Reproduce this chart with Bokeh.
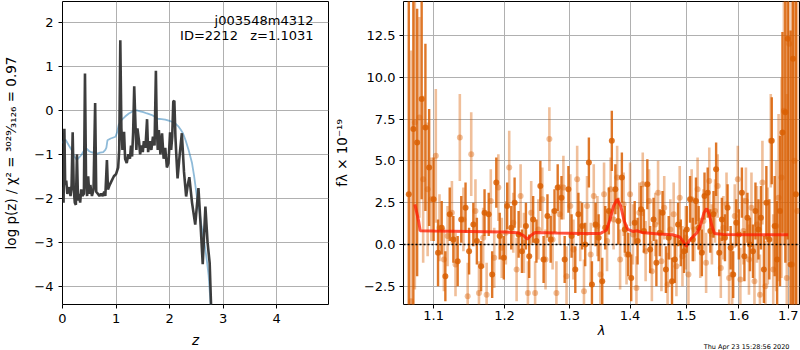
import numpy as np
from bokeh.plotting import figure
from bokeh.models import Range1d, FixedTicker, Label, Span, ColumnDataSource, Title
from bokeh.layouts import row
from bokeh.embed import file_html
from bokeh.resources import INLINE

FONT = "DejaVu Sans"

# ---------------- left panel: log p(z) ----------------
z_pz = [0.00, 0.02, 0.035, 0.05, 0.07, 0.09, 0.11, 0.13, 0.15, 0.17,
        0.19, 0.21, 0.23, 0.25, 0.27, 0.29, 0.31, 0.33, 0.35, 0.37,
        0.40, 0.42, 0.44, 0.46, 0.48, 0.50, 0.52, 0.55, 0.58, 0.61,
        0.63, 0.66, 0.69, 0.72, 0.75, 0.78, 0.80, 0.83, 0.85, 0.88,
        0.92, 0.96, 1.00, 1.04, 1.06, 1.08, 1.10, 1.12, 1.15, 1.17,
        1.20, 1.23, 1.26, 1.28, 1.30, 1.32, 1.34, 1.36, 1.38, 1.40,
        1.43, 1.45, 1.48, 1.50, 1.52, 1.55, 1.58, 1.60, 1.63, 1.66,
        1.69, 1.72, 1.745, 1.76, 1.78, 1.80, 1.83, 1.86, 1.89, 1.92,
        1.95, 1.98, 2.01, 2.03, 2.05, 2.07, 2.09, 2.11, 2.13, 2.15,
        2.19, 2.23, 2.27, 2.31, 2.34, 2.37, 2.42, 2.48, 2.54, 2.58,
        2.62, 2.67, 2.71, 2.75, 2.78, 2.80]
logpz = [-1.75, -2.10, -0.42, -1.70, -1.60, -1.90, -1.80, -1.75, -1.95, -1.70,
         -0.50, -1.80, -2.10, -2.15, -1.00, -2.05, -1.90, -2.10, -1.80, -1.95,
         -1.90, 0.84, -1.60, -1.95, -1.50, -1.90, -1.70, -1.95, -1.80, 0.17,
         -1.85, -1.90, -1.95, -1.90, -1.95, -1.85, -1.95, -1.13, -1.80, -1.70,
         -1.60, -1.50, -1.45, -1.30, -0.90, 1.60, -0.40, -0.90, -0.49, -1.10,
         -1.20, -1.00, -1.10, -0.80, -1.05, -0.50, 0.55, -0.20, -0.90, -0.41,
         -0.70, -1.00, -0.80, -0.95, -0.70, -0.85, -0.20, -0.95, -0.70, -0.90,
         -0.60, -0.80, 0.90, -0.30, -0.90, -0.45, -1.00, -0.52, -1.10, -0.85,
         -1.30, -1.20, -0.50, -0.90, -0.60, 0.20, 0.22, -0.60, -1.10, -1.55,
         -1.00, -0.52, -1.40, -1.96, -1.70, -1.52, -2.10, -2.60, -1.77, -2.60,
         -3.50, -2.19, -3.00, -3.48, -4.60, -5.50]

z_prior = [0.00, 0.02, 0.06, 0.12, 0.18, 0.22, 0.27, 0.32, 0.36, 0.40,
           0.44, 0.50, 0.56, 0.60, 0.64, 0.70, 0.76, 0.80, 0.82, 0.84,
           0.90, 0.99, 1.02, 1.05, 1.10, 1.17, 1.24, 1.30, 1.35, 1.39,
           1.45, 1.51, 1.58, 1.66, 1.72, 1.78, 1.85, 1.92, 2.00, 2.07,
           2.12, 2.17, 2.21, 2.25, 2.30, 2.36, 2.42, 2.46, 2.51, 2.56,
           2.60, 2.65, 2.70, 2.73, 2.77, 2.80]
logprior = [-0.75, -0.68, -0.67, -0.80, -0.92, -1.05, -1.13, -1.06, -1.00, -0.92,
            -0.86, -0.93, -0.96, -0.94, -0.99, -0.96, -0.95, -0.90, -0.85, -0.68,
            -0.64, -0.60, -0.50, -0.33, -0.22, -0.14, -0.07, -0.03, 0.00, 0.00,
            -0.02, -0.04, -0.07, -0.10, -0.14, -0.19, -0.20, -0.21, -0.24, -0.27,
            -0.31, -0.37, -0.44, -0.52, -0.68, -0.92, -1.20, -1.50, -1.96, -2.30,
            -2.65, -3.00, -3.45, -3.75, -4.45, -5.00]

z_ticks = [0, 1, 2, 3, 4]
pz_ticks = [-4, -3, -2, -1, 0, 1, 2]

# ---------------- right panel: spectrum ----------------
lam_a = [1.067, 1.073, 1.078, 1.084, 1.089, 1.094, 1.100, 1.106, 1.111, 1.116,
         1.122, 1.127, 1.133, 1.138, 1.144, 1.149, 1.155, 1.160, 1.166, 1.171,
         1.177, 1.182, 1.188, 1.193, 1.199, 1.204, 1.210, 1.215, 1.221, 1.226,
         1.232, 1.237, 1.243, 1.248, 1.254, 1.259, 1.265, 1.270, 1.276, 1.281,
         1.287, 1.292, 1.298, 1.303, 1.309, 1.314, 1.320, 1.325, 1.331, 1.336,
         1.342, 1.347, 1.353, 1.358, 1.364, 1.369, 1.375, 1.380, 1.386, 1.391,
         1.397, 1.402, 1.408, 1.413, 1.419, 1.424, 1.430, 1.435, 1.441, 1.446,
         1.452, 1.457, 1.463, 1.468, 1.474, 1.479, 1.485, 1.490, 1.496, 1.501,
         1.507, 1.512, 1.518, 1.523, 1.529, 1.534, 1.540, 1.545, 1.551, 1.556,
         1.562, 1.567, 1.573, 1.578, 1.584, 1.589, 1.595, 1.600, 1.606, 1.611,
         1.617, 1.622, 1.628, 1.633, 1.639, 1.644, 1.650, 1.655, 1.661, 1.666,
         1.672, 1.677, 1.683, 1.688, 1.694, 1.699, 1.705, 1.710, 1.716]
flux_a = [3.0, 6.9, 6.1, 8.7, 7.0, 4.6, 2.7, -0.5, 1.0, -1.9,
          1.8, 0.3, -1.0, 1.5, 2.2, -0.4, 1.2, 0.2, -1.3, 1.9,
          1.8, -1.8, 3.7, 0.5, -0.8, 2.3, 1.0, 2.5, 0.6, -0.4,
          1.1, -0.7, 1.5, 0.2, 3.5, -0.9, 1.7, 0.3, 2.0, 3.4,
          2.8, -0.9, 3.3, 0.5, -1.5, 1.8, 1.1, 0.0, 4.9, -2.4,
          1.2, 0.4, -2.2, 1.0, 2.0, 6.2, 3.3, 1.4, 4.0, 0.9,
          -0.6, -2.0, 1.3, 0.2, 2.1, 0.8, 3.6, -0.3, 1.5, -1.1,
          0.7, 1.9, -1.5, 0.4, -2.2, -0.9, 1.2, 0.1, -0.4, 0.9,
          2.7, 0.3, 2.6, 1.0, -0.5, 2.9, 3.1, 0.8, 1.8, 4.5,
          -0.5, 1.5, 0.4, 2.2, -0.2, -1.8, 1.3, 0.6, 3.1, -0.7,
          1.6, 0.0, -0.4, 2.0, 0.9, 1.6, -1.5, 2.5, 0.3, 6.2,
          1.1, -0.9, 2.0, 6.7, 7.9, 12.3, -1.2, 11.1, 3.0]
err_a = [15, 12, 8, 6, 5, 3.5, 2.5, 2.0, 1.6, 1.5,
         1.6, 1.4, 1.5, 1.4, 1.5, 1.4, 1.3, 1.4, 1.5, 1.4,
         1.3, 1.4, 1.5, 1.4, 1.3, 1.4, 1.3, 1.5, 1.4, 1.3,
         1.4, 1.3, 1.4, 1.3, 1.5, 1.4, 1.3, 1.4, 1.3, 1.4,
         1.3, 1.4, 1.4, 1.3, 1.4, 1.3, 1.4, 1.3, 1.5, 1.4,
         1.3, 1.4, 1.4, 1.3, 1.4, 1.8, 1.5, 1.4, 1.5, 1.4,
         1.3, 1.4, 1.3, 1.4, 1.4, 1.3, 1.5, 1.4, 1.3, 1.4,
         1.4, 1.3, 1.4, 1.3, 1.4, 1.4, 1.3, 1.4, 1.3, 1.4,
         1.4, 1.3, 1.4, 1.3, 1.4, 1.4, 1.5, 1.3, 1.4, 1.6,
         1.4, 1.3, 1.4, 1.4, 1.3, 1.4, 1.4, 1.5, 1.5, 1.5,
         1.5, 1.6, 1.6, 1.7, 1.8, 1.9, 2.0, 2.2, 2.4, 2.6,
         3.0, 3.5, 4.5, 6, 9, 12, 14, 16, 18]

lam_b = [1.070, 1.075, 1.081, 1.086, 1.092, 1.097, 1.103, 1.108, 1.114, 1.119,
         1.125, 1.130, 1.136, 1.141, 1.147, 1.152, 1.158, 1.163, 1.169, 1.174,
         1.180, 1.185, 1.191, 1.196, 1.202, 1.207, 1.213, 1.218, 1.224, 1.229,
         1.235, 1.240, 1.246, 1.251, 1.257, 1.262, 1.268, 1.273, 1.279, 1.284,
         1.290, 1.295, 1.301, 1.306, 1.312, 1.317, 1.323, 1.328, 1.334, 1.339,
         1.345, 1.350, 1.356, 1.361, 1.367, 1.372, 1.378, 1.383, 1.389, 1.394,
         1.400, 1.405, 1.411, 1.416, 1.422, 1.427, 1.433, 1.438, 1.444, 1.449,
         1.455, 1.460, 1.466, 1.471, 1.477, 1.482, 1.488, 1.493, 1.499, 1.504,
         1.510, 1.515, 1.521, 1.526, 1.532, 1.537, 1.543, 1.548, 1.554, 1.559,
         1.565, 1.570, 1.576, 1.581, 1.587, 1.592, 1.598, 1.603, 1.609, 1.614,
         1.620, 1.625, 1.631, 1.636, 1.642, 1.647, 1.653, 1.658, 1.664, 1.669,
         1.675, 1.680, 1.686, 1.691, 1.697, 1.702, 1.708, 1.713, 1.719]
flux_b = [-3.4, 7.3, 7.6, 3.9, 3.3, 2.7, 5.3, 1.0, -0.9, 0.5,
          1.9, -1.2, 6.4, 1.5, -3.1, 5.4, 2.0, -2.9, 0.4, -3.0,
          2.6, -0.8, 3.4, -0.2, 0.7, 4.6, 1.3, -1.5, 2.9, 0.1,
          -2.9, 1.9, -2.9, 0.9, 2.7, -0.9, 6.3, 0.3, -2.9, 1.8,
          3.4, -1.9, 2.3, -0.3, 3.9, 0.8, -2.8, 2.3, -0.6, 2.9,
          1.1, -1.8, 3.0, 0.2, 3.3, 1.5, 4.0, -0.9, 2.4, -0.6,
          3.0, 0.6, -2.6, 1.9, 3.6, -0.4, 2.6, -1.6, 1.2, 3.1,
          -1.0, 2.2, -2.4, 0.9, 1.8, -1.3, 2.8, -0.7, 0.4, -1.8,
          2.7, 0.9, 3.3, -0.2, 1.4, -1.1, 3.8, 0.6, 2.0, 3.5,
          -1.4, 1.0, 2.4, -2.0, -1.8, 1.7, 3.9, -2.1, 0.8, 2.6,
          -0.9, 2.2, -2.2, 1.2, -3.0, 3.7, -2.5, 0.5, 6.2, -1.5,
          1.1, 2.8, 4.0, 8.0, -2.0, 12.0, -1.2, 5.0, 2.0]
err_b = [15, 10, 6, 5, 4, 2.5, 4, 2.0, 1.9, 1.8,
         1.9, 1.9, 2.6, 1.9, 2.0, 2.5, 1.9, 1.9, 1.8, 1.9,
         1.9, 1.8, 2.0, 1.8, 1.9, 2.2, 1.8, 1.9, 1.9, 1.8,
         1.9, 1.9, 1.9, 1.8, 1.9, 1.8, 1.9, 1.8, 1.9, 1.8,
         1.9, 1.8, 1.9, 1.8, 2.0, 1.8, 1.9, 1.8, 1.9, 1.9,
         1.8, 1.9, 1.9, 1.8, 1.9, 1.8, 1.9, 1.8, 1.9, 1.8,
         1.9, 1.8, 1.9, 1.8, 1.9, 1.8, 1.9, 1.8, 1.9, 1.9,
         1.8, 1.9, 1.9, 1.8, 1.9, 1.8, 1.9, 1.8, 1.9, 1.9,
         1.8, 1.9, 1.9, 1.8, 1.9, 1.8, 2.0, 1.8, 1.9, 1.9,
         1.8, 1.9, 1.9, 1.9, 1.9, 1.9, 2.0, 1.9, 2.0, 2.0,
         2.1, 2.1, 2.2, 2.3, 2.4, 2.5, 2.7, 2.9, 2.8, 3.3,
         3.9, 5, 6, 8, 11, 13, 16, 18, 20]

lam_model = [1.075, 1.080, 1.082, 1.100, 1.150, 1.200, 1.220, 1.228, 1.234, 1.240,
             1.246, 1.280, 1.320, 1.350, 1.360, 1.366, 1.372, 1.378, 1.384, 1.390,
             1.396, 1.405, 1.412, 1.420, 1.450, 1.475, 1.488, 1.495, 1.500, 1.506,
             1.512, 1.520, 1.527, 1.533, 1.538, 1.543, 1.548, 1.553, 1.570, 1.620,
             1.670, 1.700]
flux_model = [2.40, 1.40, 0.82, 0.80, 0.78, 0.74, 0.70, 0.55, 0.32, 0.55,
              0.72, 0.68, 0.66, 0.66, 0.85, 1.50, 2.30, 2.70, 2.30, 1.40,
              0.90, 0.78, 0.82, 0.72, 0.62, 0.58, 0.45, 0.15, -0.12, 0.25,
              0.45, 0.70, 1.20, 1.90, 2.15, 1.80, 1.10, 0.65, 0.60, 0.58,
              0.58, 0.58]

lam_ticks = [1.1, 1.2, 1.3, 1.4, 1.5, 1.6, 1.7]
f_ticks = [-2.5, 0.0, 2.5, 5.0, 7.5, 10.0, 12.5]

name_text = "j003548m4312"
id_text = "ID=2212\u00a0\u00a0\u00a0z=1.1031"
stamp_text = "Thu Apr 23 15:28:56 2020"

ORANGE = "#d95f02"


def mpl_minus(v, fmt):
    s = fmt.format(v)
    return s.replace("-", "\u2212")


def style(p):
    p.outline_line_color = "black"
    p.outline_line_width = 1
    p.outline_line_alpha = 1
    p.grid.grid_line_color = "#b0b0b0"
    p.grid.grid_line_width = 1
    for ax in p.axis:
        ax.axis_line_color = None
        ax.major_tick_in = 0
        ax.major_tick_out = 4
        ax.major_tick_line_color = "black"
        ax.minor_tick_line_color = None
        ax.major_label_text_font = FONT
        ax.major_label_text_font_size = "13px"
        ax.major_label_text_color = "black"
        ax.axis_label_text_font = FONT
        ax.axis_label_text_font_size = "13.5px"
        ax.axis_label_text_color = "black"
        ax.axis_label_text_font_style = "normal"
        ax.major_label_standoff = 5


# ----- left figure -----
p1 = figure(width=330, height=350, x_range=Range1d(0, 4.97), y_range=Range1d(-4.42, 2.48),
            output_backend="svg", toolbar_location=None,
            min_border_left=62, min_border_right=2, min_border_top=1, min_border_bottom=46)
style(p1)
p1.xaxis.ticker = FixedTicker(ticks=z_ticks)
p1.yaxis.ticker = FixedTicker(ticks=pz_ticks)
p1.yaxis.major_label_overrides = {t: mpl_minus(t, "{:d}") for t in pz_ticks}
p1.xaxis.axis_label = "z"
p1.xaxis.axis_label_text_font_style = "italic"
p1.xaxis.axis_label_standoff = 6
p1.yaxis.axis_label = "log p(z) / \u03c7\u00b2 = \u00b3\u2070\u00b2\u2079\u2044\u2083\u2081\u2082\u2086 = 0.97"
p1.yaxis.axis_label_standoff = 12

p1.line(z_prior, logprior, line_color="#1f77b4", line_alpha=0.5, line_width=1.8)
p1.line(z_pz, logpz, line_color="#333333", line_alpha=0.95, line_width=2.6)

p1.add_layout(Label(x=251, y=284, x_units="screen", y_units="screen", text=name_text,
                    text_align="right", text_baseline="middle", text_font=FONT,
                    text_font_size="13px", text_color="black"))
p1.add_layout(Label(x=251, y=269.5, x_units="screen", y_units="screen", text=id_text,
                    text_align="right", text_baseline="middle", text_font=FONT,
                    text_font_size="13px", text_color="black"))

# ----- right figure -----
p2 = figure(width=470, height=350, x_axis_type="log",
            x_range=Range1d(1.0601, 1.7237), y_range=Range1d(-3.59, 14.53),
            output_backend="svg", toolbar_location=None,
            min_border_left=69, min_border_right=1, min_border_top=1, min_border_bottom=46)
style(p2)
p2.xaxis.ticker = FixedTicker(ticks=lam_ticks)
p2.xaxis.major_label_overrides = {t: "{:.1f}".format(t) for t in lam_ticks}
p2.xaxis.major_label_standoff = 2
p2.yaxis.ticker = FixedTicker(ticks=f_ticks)
p2.yaxis.major_label_overrides = {t: mpl_minus(t, "{:.1f}") for t in f_ticks}
p2.yaxis.major_label_standoff = 4
p2.xaxis.axis_label = "\u03bb"
p2.xaxis.axis_label_text_font_style = "italic"
p2.xaxis.axis_label_text_font_size = "13px"
p2.xaxis.axis_label_standoff = 0
p2.yaxis.axis_label = "f\u03bb \u00d7 10\u207b\u00b9\u2079"
p2.yaxis.axis_label_standoff = 11

src_b = ColumnDataSource(dict(x=lam_b, y=flux_b,
                              lo=np.array(flux_b) - np.array(err_b),
                              hi=np.array(flux_b) + np.array(err_b)))
src_a = ColumnDataSource(dict(x=lam_a, y=flux_a,
                              lo=np.array(flux_a) - np.array(err_a),
                              hi=np.array(flux_a) + np.array(err_a)))

p2.segment(x0="x", y0="lo", x1="x", y1="hi", source=src_b, line_color=ORANGE,
           line_alpha=0.4, line_width=2.6)
p2.scatter(x="x", y="y", source=src_b, size=6, fill_color=ORANGE, fill_alpha=0.4,
           line_color=None)
p2.segment(x0="x", y0="lo", x1="x", y1="hi", source=src_a, line_color=ORANGE,
           line_alpha=0.85, line_width=2.4)
p2.scatter(x="x", y="y", source=src_a, size=6, fill_color=ORANGE, fill_alpha=0.85,
           line_color=None)

p2.line(lam_model, flux_model, line_color="#ff1a00", line_alpha=0.75, line_width=3)
p2.add_layout(Span(location=0, dimension="width", line_color="black",
                   line_dash="2 2", line_width=1.5))

p2.add_layout(Title(text=stamp_text, align="right", text_font=FONT,
                    text_font_size="6.5px", text_font_style="normal",
                    text_color="black", standoff=0, offset=10), "below")

layout = row(p1, p2)
open("out.html", "w").write(file_html(layout, INLINE))
